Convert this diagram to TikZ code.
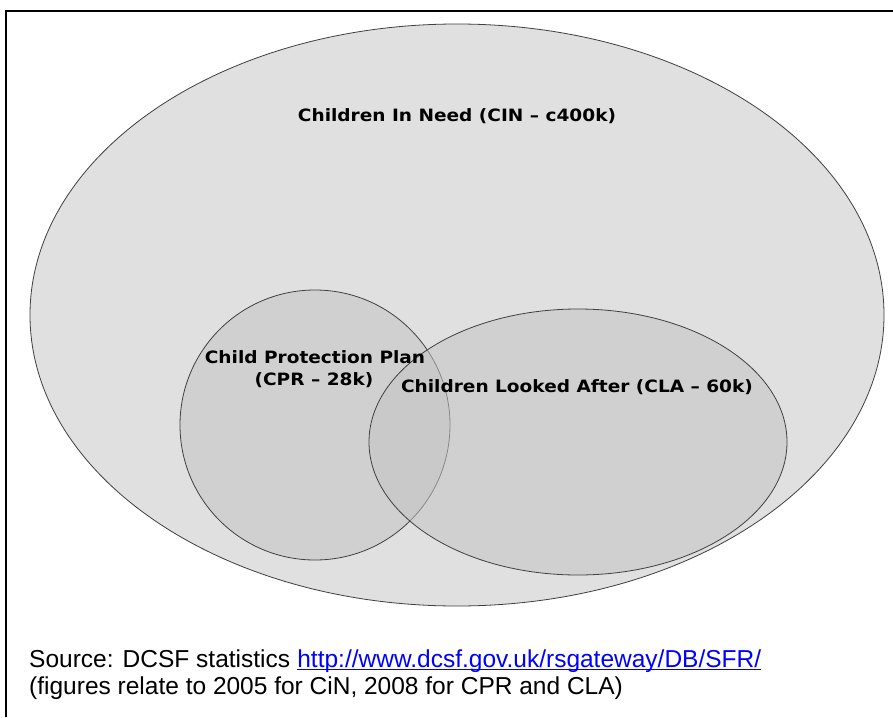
\documentclass[tikz,border=0pt]{standalone}
\usepackage{fontspec}
\setmainfont{Liberation Sans}
\newfontfamily\verd{DejaVu Sans}
\begin{document}
\begin{tikzpicture}[x=1pt,y=-1pt,
  outline/.style={draw=black!75,line width=0.8pt},
  lbl/.style={font=\verd\bfseries\fontsize{17}{20}\selectfont,text=black,inner sep=0pt,xscale=1.09},
  foot/.style={font=\fontsize{24.5}{28}\selectfont,anchor=base west,inner sep=0pt}]
\useasboundingbox (0,0) rectangle (893,717);
\fill[white] (0,0) rectangle (893,717);
\draw[line width=1.6pt] (5.8,717) -- (5.8,11) -- (893,11);
\path[outline,fill={rgb,255:red,224;green,224;blue,224}] (457,315) ellipse [x radius=427, y radius=291];
\begin{scope}[fill opacity=0.55]
\path[outline,draw opacity=1,fill={rgb,255:red,196;green,196;blue,196}] (315,425) ellipse [x radius=135, y radius=135];
\path[outline,draw opacity=1,fill={rgb,255:red,196;green,196;blue,196}] (578,442) ellipse [x radius=209, y radius=133];
\end{scope}
\node[lbl] (cin) at (457,116) {Children In Need (CIN – c400k)};
\node[lbl] (cpr1) at (315,357) {Child Protection Plan};
\node[lbl] (cpr2) at (314,380) {(CPR – 28k)};
\node[lbl] (cla) at (577,387) {Children Looked After (CLA – 60k)};
\node[foot] (src) at (29,667) {Source: DCSF statistics};
\node[foot,text=blue] (url) at ([xshift=6.8pt]src.base east) {http://www.dcsf.gov.uk/rsgateway/DB/SFR/};
\draw[blue,line width=1.2pt] ([yshift=-2.5pt]url.base west) -- ([yshift=-2.5pt]url.base east);
\node[foot] (fig) at (29,694) {(figures relate to 2005 for CiN, 2008 for CPR and CLA)};
\end{tikzpicture}
\end{document}
